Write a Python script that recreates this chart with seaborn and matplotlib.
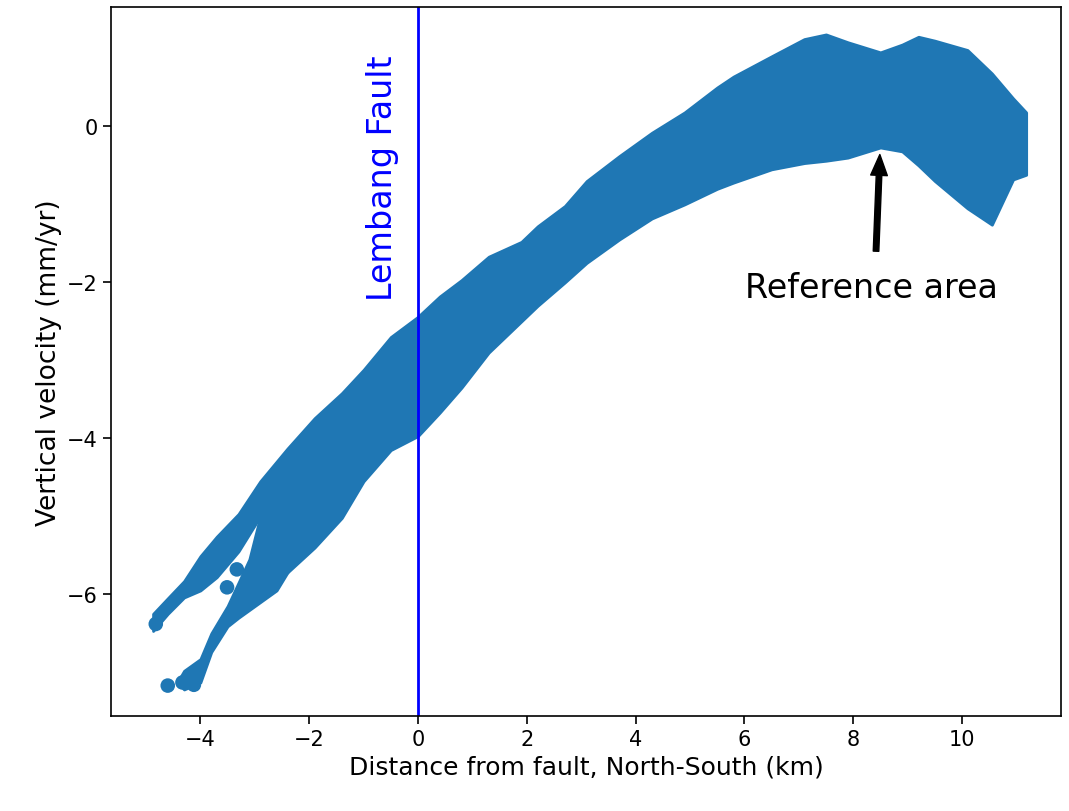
import matplotlib
matplotlib.use("Agg")
import matplotlib.pyplot as plt
import numpy as np
import pandas as pd
import seaborn as sns

# envelope of the velocity cloud (km, mm/yr)
dist_km = [-4.87, -4.6, -4.3, -4.0, -3.7, -3.3, -2.9, -2.4, -1.9, -1.4, -1.0, -0.5,
           0.0, 0.4, 0.8, 1.3, 1.9, 2.2, 2.7, 3.1, 3.7, 4.3, 4.9, 5.5, 5.8, 6.5,
           7.1, 7.5, 7.9, 8.5, 8.9, 9.2, 9.5, 10.1, 10.55, 10.94, 11.18]
vel_top = [-6.25, -6.05, -5.83, -5.51, -5.26, -4.97, -4.55, -4.13, -3.74, -3.42, -3.12, -2.70,
           -2.44, -2.18, -1.97, -1.67, -1.48, -1.28, -1.02, -0.70, -0.38, -0.08, 0.18, 0.50,
           0.64, 0.90, 1.12, 1.18, 1.08, 0.95, 1.05, 1.15, 1.10, 0.98, 0.68, 0.36, 0.18]
vel_bot = [-6.47, -6.25, -6.04, -5.95, -5.78, -5.45, -5.00, -5.72, -5.40, -5.02, -4.55, -4.15,
           -3.97, -3.67, -3.35, -2.90, -2.50, -2.30, -2.00, -1.75, -1.45, -1.18, -1.00, -0.80,
           -0.72, -0.55, -0.47, -0.44, -0.40, -0.27, -0.32, -0.50, -0.70, -1.05, -1.26, -0.68, -0.62]

# lower south-western branch
branch_km = [-4.4, -4.3, -4.0, -3.8, -3.5, -3.3, -3.1, -2.9, -2.6, -2.4]
branch_top = [-7.10, -6.98, -6.83, -6.50, -6.15, -5.85, -5.55, -5.00, -4.80, -4.60]
branch_bot = [-7.15, -7.22, -7.13, -6.74, -6.41, -6.30, -6.20, -6.10, -5.95, -5.72]

# single points that stand out at the branch tips and in the gap
stray_km = [-4.6, -3.51, -3.33, -4.82, -4.33, -4.12]
stray_vel = [-7.17, -5.91, -5.68, -6.38, -7.13, -7.16]

fault_km = 0.0
ref_km, ref_vel = 8.49, -0.36

blue = "#1f77b4"

fig, ax = plt.subplots(figsize=(10.69, 8.12), dpi=100)
fig.subplots_adjust(left=0.104, right=0.9925, top=0.990, bottom=0.117)

ax.fill_between(dist_km, vel_bot, vel_top, color=blue, lw=2, edgecolor=blue)
ax.fill_between(branch_km, branch_bot, branch_top, color=blue, lw=2, edgecolor=blue)
sns.scatterplot(x=stray_km, y=stray_vel, color=blue, s=110, edgecolor="none", ax=ax)

ax.axvline(fault_km, color="blue", lw=2)
ax.text(-0.65, -0.65, "Lembang Fault", rotation=90, color="blue", fontsize=24,
        ha="center", va="center")
ax.text(8.33, -2.06, "Reference area", fontsize=24, ha="center", va="center")
ax.annotate("", xy=(ref_km, ref_vel), xytext=(8.42, -1.6),
            arrowprops=dict(facecolor="black", edgecolor="black", width=4,
                            headwidth=12, headlength=15, shrink=0.0))

ax.set_xlim(-5.64, 11.82)
ax.set_ylim(-7.56, 1.53)
ax.set_xticks([-4, -2, 0, 2, 4, 6, 8, 10])
ax.set_yticks([0, -2, -4, -6])
ax.tick_params(labelsize=15, length=6, width=1.2)
for s in ax.spines.values():
    s.set_linewidth(1.2)
ax.set_xlabel("Distance from fault, North-South (km)", fontsize=18)
ax.set_ylabel("Vertical velocity (mm/yr)", fontsize=19)

plt.savefig("out.png", dpi=100)
